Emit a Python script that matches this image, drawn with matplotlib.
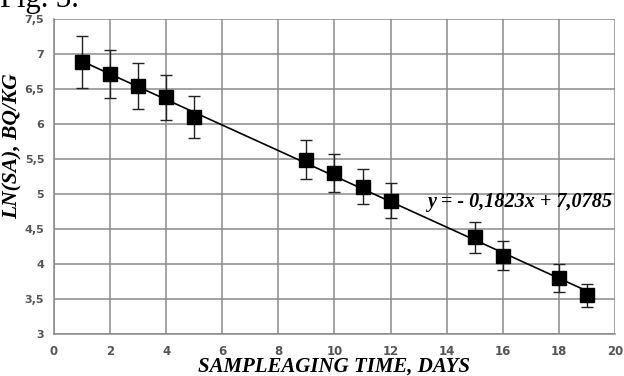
import matplotlib
matplotlib.use("Agg")
import matplotlib.pyplot as plt
import numpy as np
from matplotlib.ticker import FuncFormatter

days = [1, 2, 3, 4, 5, 9, 10, 11, 12, 15, 16, 18, 19]
ln_sa = [6.88, 6.71, 6.54, 6.38, 6.10, 5.49, 5.30, 5.10, 4.90, 4.38, 4.12, 3.80, 3.55]
err = [0.37, 0.34, 0.33, 0.32, 0.30, 0.28, 0.27, 0.25, 0.25, 0.22, 0.21, 0.20, 0.17]
slope = -0.1823
intercept = 7.0785
x_ticks = [0, 2, 4, 6, 8, 10, 12, 14, 16, 18, 20]
y_ticks = [3, 3.5, 4, 4.5, 5, 5.5, 6, 6.5, 7, 7.5]

fig = plt.figure(figsize=(6.24, 3.76), dpi=100)
ax = fig.add_axes([0.0865, 0.1117, 0.899, 0.8378])

ax.set_xlim(0, 20)
ax.set_ylim(3, 7.5)
ax.set_xticks(x_ticks)
ax.set_yticks(y_ticks)
ax.grid(True, color="#8a8a8a", linewidth=1.1)
ax.set_axisbelow(True)
for side in ["top", "right"]:
    ax.spines[side].set_visible(False)
for side in ["left", "bottom"]:
    ax.spines[side].set_color("#8a8a8a")
    ax.spines[side].set_linewidth(1.1)

fmt = FuncFormatter(lambda v, p: ("%g" % v).replace(".", ","))
ax.yaxis.set_major_formatter(fmt)
ax.tick_params(axis="x", length=0, labelsize=8.5, colors="#555555", pad=8)
ax.tick_params(axis="y", length=0, labelsize=8, colors="#555555", pad=7)
for lab in ax.get_xticklabels() + ax.get_yticklabels():
    lab.set_fontweight("bold")

xs = np.array([days[0], days[-1]])
ax.plot(xs, slope * xs + intercept, color="black", linewidth=1.2, zorder=3)
ax.errorbar(days, ln_sa, yerr=err, fmt="s", color="black", markersize=10,
            ecolor="#222222", elinewidth=1.0, capsize=4.5, capthick=1.0, zorder=4)

ax.text(19.9, 4.89, "y = - 0,1823x + 7,0785", ha="right", va="center",
        family="Liberation Serif", fontweight="bold", style="italic", fontsize=14.5)

ax.set_xlabel("SAMPLEAGING TIME, DAYS", family="Liberation Serif", fontweight="bold",
              style="italic", fontsize=15, labelpad=-1)
ax.set_ylabel("LN(SA), BQ/KG", family="Liberation Serif", fontweight="bold",
              style="italic", fontsize=15.5)
ax.yaxis.set_label_coords(-0.056, 0.597)

fig.text(0.0, 1.0, "Fig. 3.", ha="left", va="center", family="Liberation Serif",
         fontsize=22)

fig.savefig("out.png", dpi=100)
